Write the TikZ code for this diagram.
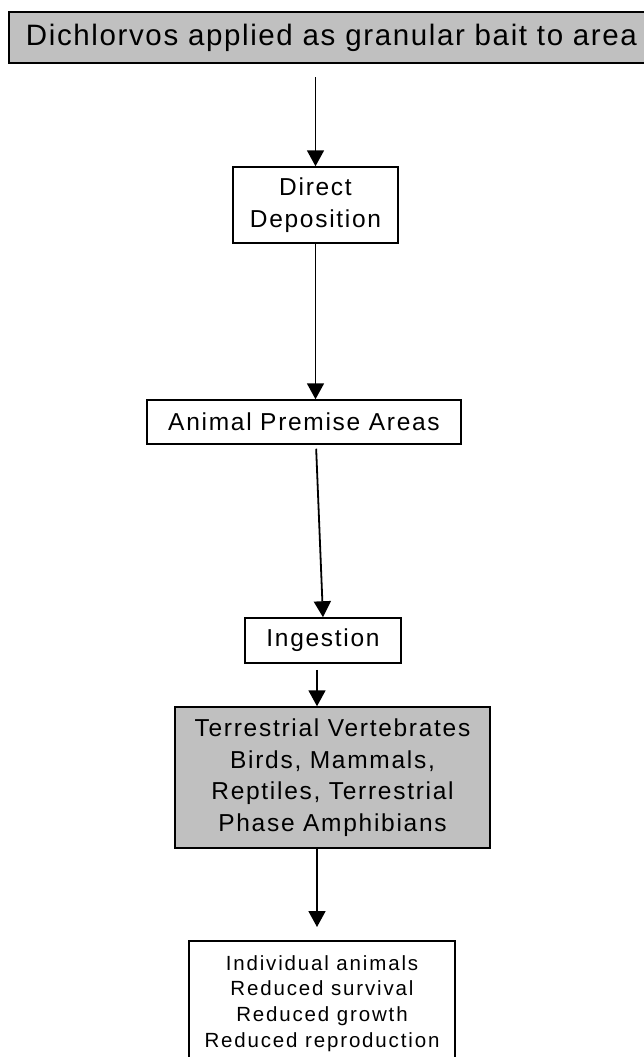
\documentclass[tikz,border=0pt]{standalone}
\usepackage{fontspec}
\setmainfont{Liberation Sans}
\newfontfamily\famtop[LetterSpace=5.5]{Liberation Sans}
\newfontfamily\fammid[LetterSpace=7]{Liberation Sans}
\newfontfamily\fambot[LetterSpace=9]{Liberation Sans}
\newcommand\ftop{\famtop\fontsize{29.5}{34}\selectfont}
\newcommand\fmid{\fammid\fontsize{24.5}{31.5}\selectfont}
\newcommand\fbot{\fambot\fontsize{20.5}{25.7}\selectfont}
\usetikzlibrary{arrows.meta}
\definecolor{boxgray}{HTML}{C0C0C0}
\begin{document}
\begin{tikzpicture}[x=1pt,y=-1pt,
  box/.style={draw=black, line width=1.5pt, inner sep=0pt, align=center, text=black},
  graybox/.style={box, fill=boxgray},
  arr/.style={line width=1.8pt, -{Triangle[width=17pt,length=16pt]}}]
\useasboundingbox (0,0) rectangle (644,1057);
\clip (0,0) rectangle (644,1057);
\fill[white] (0,0) rectangle (644,1057);

\node[graybox, line width=2pt, minimum width=645pt, minimum height=51pt, font=\ftop] (top) at (331.5,37.5) {Dichlorvos applied as granular bait to area};
\node[box, minimum width=165pt, minimum height=76pt, font=\fmid] (dd) at (315.5,205) {Direct\\Deposition};
\node[box, minimum width=314pt, minimum height=44pt, font=\fmid] (apa) at (304,422) {Animal Premise Areas};
\node[box, minimum width=156pt, minimum height=45pt, font=\fmid] (ing) at (323,640.5) {Ingestion};
\node[graybox, minimum width=315pt, minimum height=141pt, font=\fmid] (tv) at (332.5,777.5) {Terrestrial Vertebrates\\Birds, Mammals,\\Reptiles, Terrestrial\\Phase Amphibians};
\node[box, anchor=north, minimum width=266pt, minimum height=125pt, font=\fbot] (out) at (322,940) {Individual animals\\Reduced survival\\Reduced growth\\Reduced reproduction};

\draw[arr, shorten <=13pt] (top.south -| dd.north) -- (dd.north);
\draw[arr] (dd.south) -- (dd.south |- apa.north);
\draw[arr, shorten <=4pt] ([xshift=12pt]apa.south) -- (ing.north);
\draw[arr, shorten <=6pt] ([xshift=-15.5pt]tv.north |- ing.south) -- ([xshift=-15.5pt]tv.north);
\draw[arr, shorten >=13pt] ([xshift=-15.5pt]tv.south) -- ([xshift=-5pt]out.north);
\end{tikzpicture}
\end{document}
